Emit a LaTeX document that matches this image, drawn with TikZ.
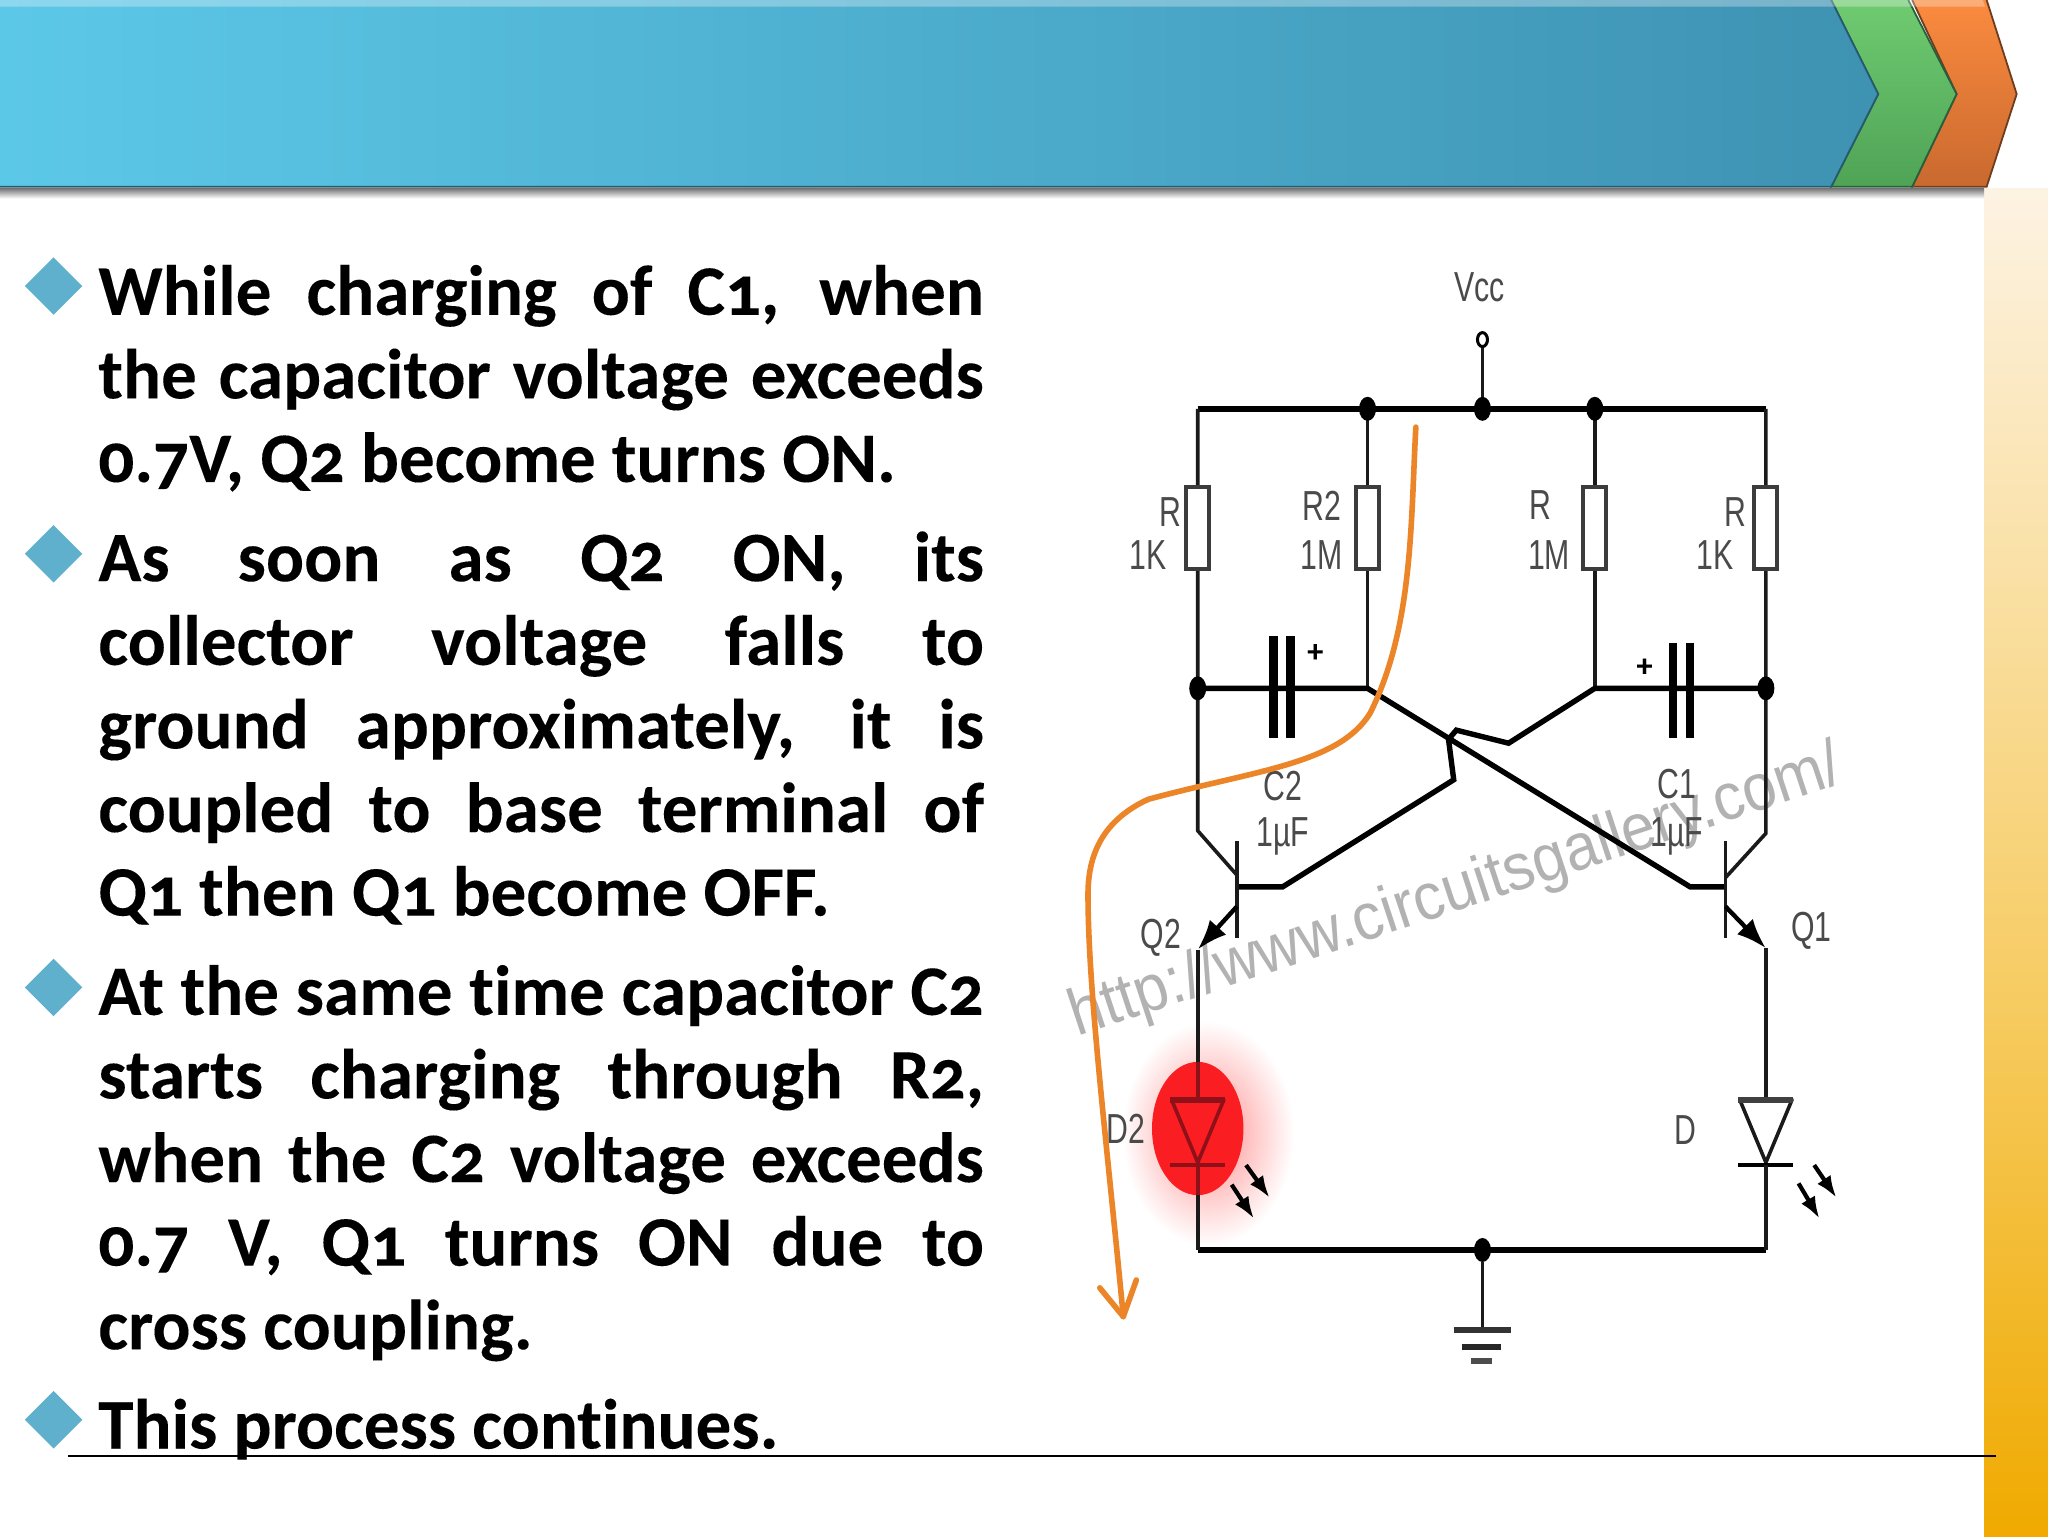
\documentclass[tikz,border=0pt]{standalone}
\usepackage{fontspec}
\usepackage{graphicx}
\setmainfont{Carlito}[Numbers=OldStyle,Ligatures=NoCommon,BoldFeatures={FakeBold=0.12}]
\newfontfamily\lab{Liberation Sans}
\usetikzlibrary{arrows.meta,shadings,fadings,shapes.geometric}
\definecolor{wire}{HTML}{1A1A1A}
\definecolor{labc}{HTML}{4A4A4A}
\definecolor{oran}{HTML}{EC8428}
\definecolor{bulletc}{HTML}{5FB0CC}
\definecolor{dkred}{HTML}{8E1018}
\definecolor{ledred}{HTML}{FA1E23}
\definecolor{bandtop}{HTML}{FDF3E3}
\definecolor{bandmid}{HTML}{F6CB60}
\definecolor{bandbot}{HTML}{F0AA00}
\newcommand{\jl}[1]{\makebox[442.8pt][s]{#1}\\}
\newcommand{\lbl}[1]{\scalebox{0.72}[1]{\lab #1}}
\tikzset{
 x=0.65306pt,y=-0.65306pt,
 wr/.style={draw=wire,line width=1.8pt},
 thick wr/.style={draw=black,line width=2.7pt},
 dotn/.style={ellipse,fill=black,inner sep=0pt,minimum width=8.5pt,minimum height=12pt},
 res/.style={draw=wire!85,fill=white,line width=2pt,minimum width=11.5pt,minimum height=41pt,inner sep=0pt,rectangle},
 cl/.style={text=labc,font=\fontsize{21}{21}\selectfont,inner sep=0pt},
 para/.style={anchor=base west,inner sep=0pt,align=left,font=\fontsize{35.5}{41.8}\selectfont\bfseries,text=black},
 arr/.style={draw=black,line width=2.2pt,-{Latex[length=15pt,width=11pt]}},
 sarr/.style={draw=black,line width=2.1pt,-{Latex[length=11pt,width=8pt]}},
}
\begin{document}
\begin{tikzpicture}
\useasboundingbox (0,0) rectangle (1568,1176);
\fill[white] (0,0) rectangle (1568,1176);
% right band
\shade[top color=bandtop,bottom color=bandmid] (1519,144) rectangle (1568,770);
\shade[top color=bandmid,bottom color=bandbot] (1519,770) rectangle (1568,1176);
% header shadow
\shade[top color=black!55,bottom color=white] (0,144) rectangle (1519,152);
% arrows
\path[top color={rgb,255:red,251;green,139;blue,63},bottom color={rgb,255:red,201;green,105;blue,47}] (1464,0) -- (1521,0) -- (1544,72) -- (1521,143) -- (1464,143) -- (1498,72) -- cycle;
\draw[draw={rgb,255:red,110;green,60;blue,30},line width=0.9pt] (1521,0) -- (1544,72) -- (1521,143) -- (1464,143) -- (1498,72) -- (1464,0);
\path[top color={rgb,255:red,111;green,203;blue,112},bottom color={rgb,255:red,79;green,163;blue,86}] (1402,0) -- (1461,0) -- (1498,72) -- (1464,143) -- (1402,143) -- (1438,72) -- cycle;
\draw[draw={rgb,255:red,40;green,95;blue,60},line width=0.9pt] (1461,0) -- (1498,72) -- (1464,143) -- (1402,143) -- (1438,72) -- (1402,0);
\path[left color={rgb,255:red,92;green,200;blue,232},right color={rgb,255:red,62;green,146;blue,178}] (0,0) -- (1402,0) -- (1438,72) -- (1402,143) -- (0,143) -- cycle;
\draw[draw={rgb,255:red,40;green,90;blue,110},line width=0.9pt] (0,143) -- (1402,143) -- (1438,72) -- (1402,0);
\fill[white,opacity=.3] (0,0) -- (1518,0) -- (1520,5) -- (0,5) -- cycle;
% bullets
\foreach \yy in {219,424,756,1087}{
  \fill[bulletc] (19,\yy) -- (41,\yy-22) -- (63,\yy) -- (41,\yy+22) -- cycle;
}
% text (anchor: baseline of the last line)
\node[para] (p1) at (75,369) {\jl{While charging of C1, when}\jl{the capacitor voltage exceeds}0.7V, Q2 become turns ON.};
\node[para] (p2) at (75,701) {\jl{As soon as Q2 ON, its}\jl{collector voltage falls to}\jl{ground approximately, it is}\jl{coupled to base terminal of}Q1 then Q1 become OFF.};
\node[para] (p3) at (75,1033) {\jl{At the same time capacitor C2}\jl{starts charging through R2,}\jl{when the C2 voltage exceeds}\jl{0.7 V, Q1 turns ON due to}cross coupling.};
\node[para] (p4) at (75,1109) {This process continues.};
\draw[black,line width=0.9pt] (52,1115) -- (1528,1115);
% glow + red
\shade[inner color=red!45,outer color=white] (925,868) ellipse (66 and 86);
\fill[ledred] (917,864) ellipse (35 and 51);
% watermark
\node[rotate=18.3,text=black!30,inner sep=0pt,font=\lab\fontsize{33}{33}\selectfont] (wm) at (1115,684) {\scalebox{0.92}[1]{http://www.circuitsgallery.com/}};
% circuit
\coordinate (tl) at (917,313); \coordinate (tr) at (1352,313);
\coordinate (bl) at (917,957); \coordinate (br) at (1352,957);
\draw[thick wr] (tl) -- (tr);
\draw[thick wr] (bl) -- (br);
\draw[wr] (tl) -- (917,636) -- (947,670);
\draw[wr] (tr) -- (1352,638) -- (1321,672);
\draw[wr] (1047,313) -- (1047,527);
\draw[wr] (1221,313) -- (1221,527);
\draw[thick wr] (917,527) -- (1047,527) -- (1294,679) -- (1321,679);
\draw[thick wr] (1352,527) -- (1221,527) -- (1155,569) -- (1115,559) -- (1109,566) -- (1113,597) -- (982,679) -- (947,679);
\draw[wr] (1135,260) -- (1135,313);
\node[draw=black,line width=1.5pt,ellipse,inner sep=0pt,minimum width=5pt,minimum height=7pt,fill=white] (vcc) at (1135,260) {};
\foreach \n/\p in {d1/{1047,313},d2/{1135,313},d3/{1221,313},d4/{917,527},d5/{1352,527},d6/{1135,957}}{
  \node[dotn] (\n) at (\p) {};
}
\foreach \n/\xx in {r1/917,r2/1047,r3/1221,r4/1352}{
  \node[res] (\n) at (\xx,404.5) {};
}
% caps
\draw[black,line width=4.3pt] (975,487) -- (975,565) (988,487) -- (988,565);
\draw[black,line width=4.3pt] (1281,492) -- (1281,565) (1294,492) -- (1294,565);
% transistors
\draw[wr] (947,644) -- (947,718);
\draw[wr] (1321,644) -- (1321,718);
\draw[arr] (947,694) -- (917,727);
\draw[arr] (1321,694) -- (1352,726);
\draw[wr] (917,727) -- (917,841);
\draw[wr] (1352,726) -- (1352,841);
% LEDs
\draw[wr,line join=round] (1332,842) -- (1372,842) -- (1352,890) -- cycle;
\draw[black!75,line width=3.2pt] (1331,842) -- (1373,842);
\draw[black,line width=2.4pt] (1331,892) -- (1373,892);
\draw[wr] (1352,892) -- (br);
\draw[wr] (917,892) -- (bl);
\draw[dkred,line width=1.8pt,line join=round] (897,842) -- (937,842) -- (917,890) -- cycle;
\draw[dkred,line width=3.2pt] (896,842) -- (938,842);
\draw[dkred,line width=2.4pt] (896,892) -- (938,892);
\draw[dkred,line width=1.8pt] (917,813) -- (917,842) (917,890) -- (917,915);
\draw[sarr] (954,892) -- (972,917);
\draw[sarr] (943,907) -- (960,933);
\draw[sarr] (1389,892) -- (1406,917);
\draw[sarr] (1377,906) -- (1393,933);
% ground
\draw[wr] (d6) -- (1135,1018);
\draw[black!80,line width=3pt] (1113,1018) -- (1157,1018);
\draw[black!85,line width=3pt] (1119,1031) -- (1149,1031);
\draw[black!70,line width=3pt] (1126,1042) -- (1142,1042);
% labels
\node[cl] (l1) at (1133,220) {\lbl{Vcc}};
\node[cl] (l2) at (896,392) {\lbl{R}};
\node[cl] (l3) at (879,425) {\lbl{1K}};
\node[cl] (l4) at (1012,387) {\lbl{R2}};
\node[cl] (l5) at (1012,425) {\lbl{1M}};
\node[cl] (l6) at (1179,387) {\lbl{R}};
\node[cl] (l7) at (1186,425) {\lbl{1M}};
\node[cl] (l8) at (1329,392) {\lbl{R}};
\node[cl] (l9) at (1313,425) {\lbl{1K}};
\node[cl] (l10) at (982,602) {\lbl{C2}};
\node[cl] (l11) at (982,640) {\lbl{1µF}};
\node[cl] (l12) at (1284,600) {\lbl{C1}};
\node[cl] (l13) at (1284,640) {\lbl{1µF}};
\node[cl] (l14) at (889,718) {\lbl{Q2}};
\node[cl] (l15) at (1387,713) {\lbl{Q1}};
\node[cl] (l16) at (862,864) {\lbl{D2}};
\node[cl] (l17) at (1290,865) {\lbl{D}};
\node[cl,text=black,font=\bfseries\fontsize{16}{16}\selectfont] (l18) at (1007,500) {+};
\node[cl,text=black,font=\bfseries\fontsize{16}{16}\selectfont] (l19) at (1259,511) {+};
% orange
\draw[oran,line width=2.8pt,line cap=round,line join=round]
 (1084,327) .. controls (1080,400) and (1082,480) .. (1049,546)
 .. controls (1025,585) and (960,590) .. (879,612)
 .. controls (840,630) and (833,660) .. (833,685)
 .. controls (833,760) and (848,880) .. (860,1008);
\draw[oran,line width=2.8pt,line cap=round,line join=round] (842,986) -- (860,1008) -- (870,980);
\end{tikzpicture}
\end{document}
